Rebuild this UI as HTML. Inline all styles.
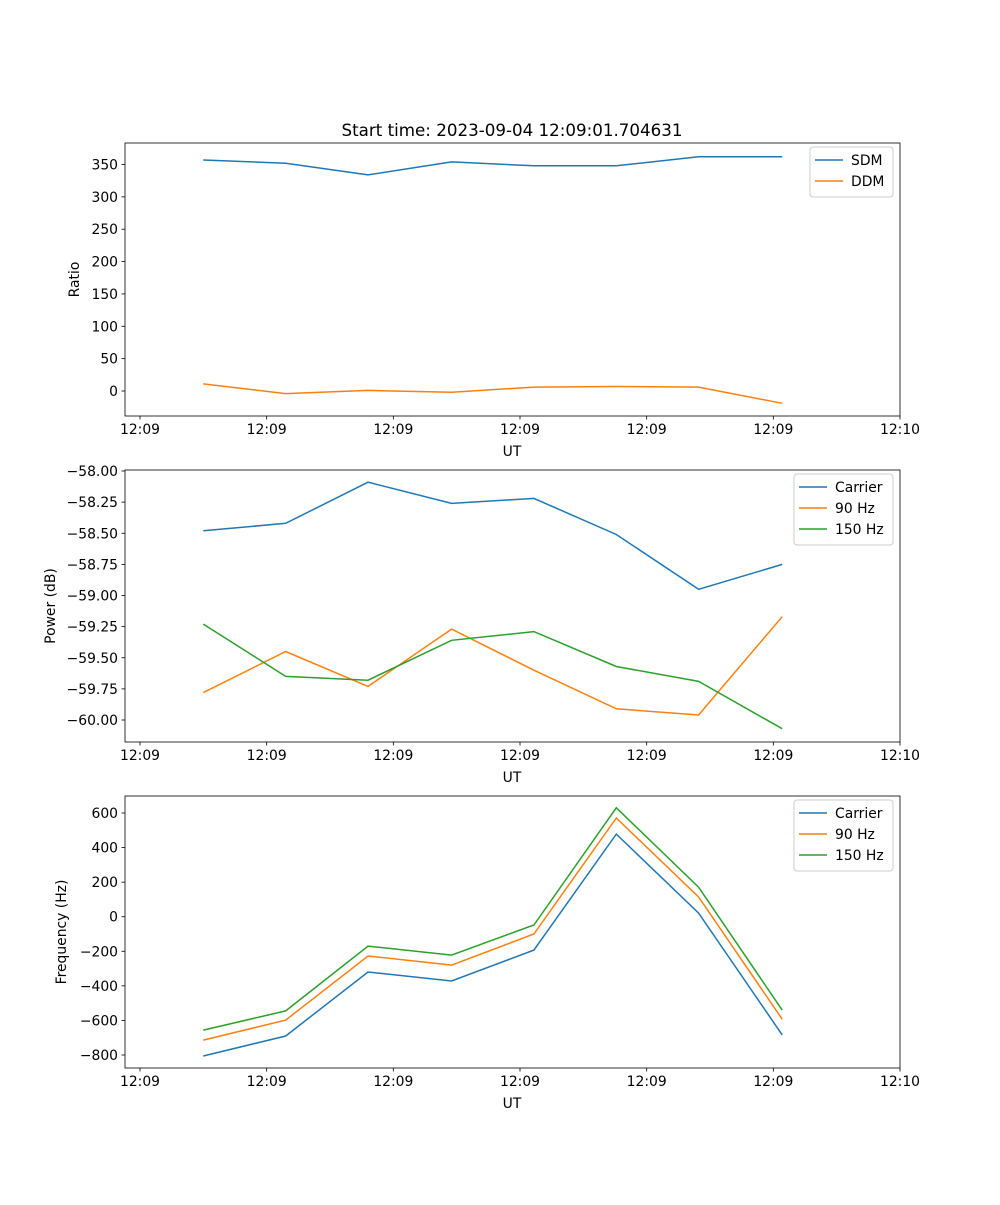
<!DOCTYPE html>
<html><head><meta charset="utf-8"><style>
body{margin:0;background:#fff}
svg text{font-family:"DejaVu Sans","Liberation Sans",sans-serif;font-size:13.9px;fill:#000}
</style></head><body>
<svg id="fig" width="1000" height="1200" viewBox="0 0 1000 1200" xmlns="http://www.w3.org/2000/svg">
<rect width="1000" height="1200" fill="#fff"/>
<text x="512" y="136" text-anchor="middle" style="font-size:16.7px">Start time: 2023-09-04 12:09:01.704631</text>
</svg>
<script>
const times=[5.0,11.5,18.0,24.6,31.1,37.6,44.1,50.7];
const xTicks=[0,10,20,30,40,50,60];
const xTickLabels=["12:09","12:09","12:09","12:09","12:09","12:09","12:10"];
const sdm=[357,352,334,354,348,348,362,362];
const ddm=[11,-4,1,-2,6,7,6,-19];
const ratioTicks=[0,50,100,150,200,250,300,350];
const powCarrier=[-58.48,-58.42,-58.09,-58.26,-58.22,-58.51,-58.95,-58.75];
const pow90=[-59.78,-59.45,-59.73,-59.27,-59.60,-59.91,-59.96,-59.17];
const pow150=[-59.23,-59.65,-59.68,-59.36,-59.29,-59.57,-59.69,-60.07];
const powTicks=[-60.00,-59.75,-59.50,-59.25,-59.00,-58.75,-58.50,-58.25,-58.00];
const freqCarrier=[-806,-690,-320,-372,-193,478,21,-684];
const freq90=[-714,-598,-227,-280,-100,571,114,-593];
const freq150=[-656,-545,-170,-222,-48,630,171,-540];
const freqTicks=[-800,-600,-400,-200,0,200,400,600];

const NS="http://www.w3.org/2000/svg";
const svg=document.getElementById('fig');
function mk(tag,attrs,parent){const e=document.createElementNS(NS,tag);for(const k in attrs)e.setAttribute(k,attrs[k]);(parent||svg).appendChild(e);return e;}
const L=125,R=900;
const xs=t=>140+(t-0)*(760/60);
const C=['#1f77b4','#ff7f0e','#2ca02c'];

function panel(name,top,bot,yAt,yMin,yMax,ticks,fmt,ylabel,ylx,series,names,leg){
  const g=mk('g',{});
  
  
  const ys=v=>yAt[0]+(v-yMin)*(yAt[1]-yAt[0])/(yMax-yMin);
  series.forEach((s,i)=>{
    const p=mk('polyline',{points:s.map((v,j)=>xs(times[j]).toFixed(1)+','+ys(v).toFixed(1)).join(' '),fill:'none',stroke:C[i],'stroke-width':1.5},g);
    
    
  });
  mk('rect',{x:L,y:top,width:R-L,height:bot-top,fill:'none',stroke:'#000','stroke-width':0.8},g);
  xTicks.forEach((t,i)=>{const x=xs(t);mk('line',{x1:x,x2:x,y1:bot,y2:bot+3.5,stroke:'#000','stroke-width':0.8},g);
    const tx=mk('text',{x:x,y:bot+18,'text-anchor':'middle'},g);tx.textContent=xTickLabels[i];
    });
  const xl=mk('text',{x:512,y:bot+40,'text-anchor':'middle'},g);xl.textContent='UT';
  
  ticks.forEach(v=>{const y=ys(v);mk('line',{x1:L,x2:L-3.5,y1:y,y2:y,stroke:'#000','stroke-width':0.8},g);
    const tx=mk('text',{x:L-7,y:y+5,'text-anchor':'end'},g);tx.textContent=fmt(v);
    });
  const cy=(top+bot)/2;
  const yl=mk('text',{x:ylx,y:cy,'text-anchor':'middle',transform:`rotate(-90 ${ylx} ${cy})`},g);yl.textContent=ylabel;
  
  const lg=mk('g',{},g);
  
  
  mk('rect',{x:leg[0],y:top+4,width:R-7-leg[0],height:names.length*21+8,rx:3,fill:'#fff','fill-opacity':0.8,stroke:'#ccc'},lg);
  names.forEach((n,i)=>{const y=top+17+i*21;
    mk('line',{x1:leg[0]+5,x2:leg[0]+33,y1:y,y2:y,stroke:C[i],'stroke-width':1.5},lg);
    const tx=mk('text',{x:leg[0]+41,y:y+5},lg);tx.textContent=n;
    });
}
const m=v=>v<0?'\u2212'+Math.abs(v):String(v);
panel('ratio',143,416,[391,164.5],0,350,ratioTicks,m,'Ratio',79,[sdm,ddm],['SDM','DDM'],[810]);
panel('power',470,742,[720,471],-60,-58,powTicks,v=>'\u2212'+Math.abs(v).toFixed(2),'Power (dB)',55,[powCarrier,pow90,pow150],['Carrier','90 Hz','150 Hz'],[794]);
panel('frequency',796,1068,[1055,813],-800,600,freqTicks,m,'Frequency (Hz)',66,[freqCarrier,freq90,freq150],['Carrier','90 Hz','150 Hz'],[794]);
</script>
</body></html>
